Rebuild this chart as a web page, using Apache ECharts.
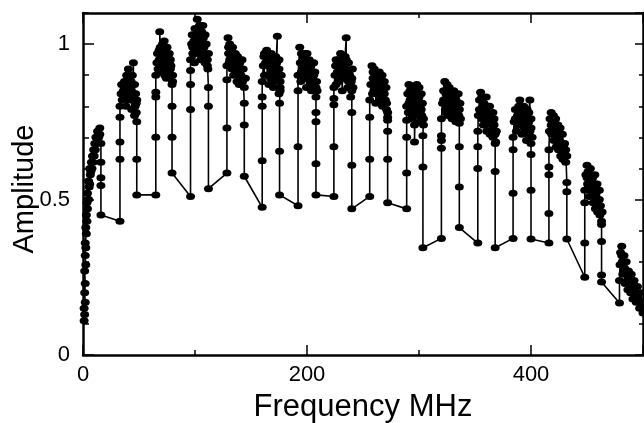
<!DOCTYPE html>
<html>
<head>
<meta charset="utf-8">
<script src="https://cdn.jsdelivr.net/npm/echarts@6/dist/echarts.min.js"></script>
<style>html,body{margin:0;padding:0;background:#fff}#c{width:644px;height:423px}</style>
</head>
<body>
<div id="c"></div>
<script>
// Each sweep: [frequency MHz, amplitude] in acquisition order
var sweep0 = [[1,0.11],[1.5,0.13],[1,0.15],[2,0.17],[1.5,0.2],[2,0.23],[1.5,0.27],[2.5,0.29],[2,0.32],[2.5,0.345],[2,0.36],[3,0.39],[2.5,0.41],[3.5,0.43],[3,0.45],[4,0.47],[3.5,0.49],[4.5,0.5],[4,0.52],[5,0.5],[5.5,0.54],[5,0.56],[6,0.55],[6.5,0.58],[6,0.6],[7,0.59],[7.5,0.62],[8,0.6],[8.5,0.64],[9,0.62],[9.5,0.66],[10,0.64],[10.5,0.68],[11,0.66],[11.5,0.7],[12,0.68],[13,0.72],[14,0.7],[15,0.73],[15,0.71],[16,0.68],[16,0.62],[16,0.57],[16,0.545],[16,0.45]];
var sweep1 = [[33,0.43],[33,0.63],[33,0.685],[33,0.765],[33,0.8],[34,0.84],[35,0.82],[34.5,0.87],[36,0.85],[37,0.88],[36.5,0.83],[38,0.86],[39,0.9],[38.5,0.8],[40,0.84],[41,0.89],[40.5,0.92],[42,0.87],[41.5,0.82],[43,0.85],[44,0.9],[43.5,0.79],[45,0.94],[45,0.83],[46,0.87],[46.5,0.8],[47,0.84],[48,0.82],[47.5,0.78],[46,0.77],[44,0.82],[42,0.84],[39,0.83],[37,0.86],[40,0.88],[43,0.88],[46,0.84],[47.5,0.81],[48,0.75],[48,0.63],[48,0.515]];
var sweep2 = [[65,0.515],[65,0.70],[65,0.83],[65,0.845],[65,0.9],[66,0.94],[67,0.92],[66.5,0.97],[68,0.95],[69,0.99],[68.5,1.04],[69,0.91],[70,0.96],[71,1.0],[70.5,0.93],[72,0.97],[73,0.9],[72.5,1.01],[74,0.95],[75,0.99],[74.5,0.89],[76,0.93],[77,0.97],[76.5,0.91],[78,0.95],[79,0.9],[78.5,0.93],[80,0.88],[77,0.94],[74,0.92],[71,0.95],[68,0.98],[70,0.99],[73,0.96],[76,0.96],[78,0.92],[80,0.9],[79.5,0.87],[79.5,0.80],[79.5,0.70],[79.5,0.585]];
var sweep3 = [[96,0.51],[96,0.79],[96,0.87],[96,0.915],[96,0.95],[97,1.0],[98,0.97],[97.5,1.03],[99,1.01],[100,1.05],[99.5,0.94],[101,0.99],[102,1.08],[102,1.03],[103,0.97],[104,1.06],[103.5,1.01],[105,0.95],[106,1.04],[105.5,0.99],[107,1.06],[108,0.97],[107.5,1.02],[109,0.94],[110,1.0],[109.5,0.96],[111,0.93],[112,0.97],[111.5,0.92],[108,0.99],[105,1.02],[101,1.01],[98,0.99],[100,0.97],[103,1.04],[106,1.0],[109,1.03],[111,0.95],[112,0.86],[112,0.80],[112,0.535]];
var sweep4 = [[128.5,0.585],[128.5,0.73],[128.5,0.885],[128.5,0.93],[129.5,1.02],[130,0.97],[131,1.0],[130.5,0.94],[132,0.98],[133,0.92],[133.5,0.99],[135,0.95],[134.5,0.9],[136,0.97],[137,0.93],[137.5,0.88],[138,0.96],[139,0.91],[140,0.94],[139.5,0.87],[141,0.9],[142,0.95],[142.5,0.88],[143,0.92],[144,0.86],[145,0.89],[141,0.92],[137,0.95],[133,0.96],[130,0.99],[131,0.95],[135,0.92],[138,0.9],[141,0.88],[143,0.89],[144,0.81],[144,0.74],[144,0.575]];
var sweep5 = [[160,0.475],[160,0.625],[160,0.80],[160,0.83],[160,0.88],[161,0.93],[162,0.9],[161.5,0.96],[163,0.94],[164,0.98],[164.5,0.9],[165,0.95],[166,0.87],[167,0.93],[168,0.97],[167.5,0.89],[169,0.94],[170,0.86],[171,0.91],[172,0.96],[171.5,0.88],[173.5,1.025],[173,0.94],[174,0.9],[175,0.95],[176,0.86],[175,0.84],[177,0.9],[176,0.88],[172,0.92],[168,0.91],[164,0.93],[162,0.97],[166,0.96],[170,0.94],[173,0.9],[175,0.92],[176,0.85],[175.5,0.81],[175.5,0.655],[175.5,0.515]];
var sweep6 = [[192,0.48],[192,0.67],[192,0.85],[192,0.9],[193.5,0.99],[194,0.94],[195,0.97],[194.5,0.88],[196,0.92],[197,0.96],[198,0.89],[199,0.94],[200,0.97],[199.5,0.86],[201,0.91],[202,0.95],[203,0.88],[203.5,0.93],[204,0.85],[205,0.9],[206,0.94],[206.5,0.87],[207,0.91],[208.5,0.88],[209,0.85],[205,0.87],[201,0.93],[197,0.94],[195,0.91],[198,0.97],[202,0.92],[206,0.9],[208,0.86],[208,0.83],[208,0.78],[208,0.75],[208,0.615],[208,0.515]];
var sweep7 = [[224,0.51],[224,0.67],[224,0.805],[224,0.825],[224,0.86],[225,0.9],[226,0.87],[225.5,0.93],[227,0.91],[228,0.95],[228.5,0.88],[229,0.93],[230,0.97],[231,0.9],[231.5,0.85],[232,0.94],[233,0.89],[234,0.96],[235,1.02],[235,0.95],[236,0.91],[237,0.94],[236.5,0.86],[238,0.9],[239,0.83],[239.5,0.88],[240.5,0.92],[241,0.86],[237,0.88],[233,0.92],[229,0.9],[226,0.95],[230,0.94],[234,0.9],[238,0.86],[240,0.89],[240,0.85],[240,0.78],[240,0.61],[240,0.47]];
var sweep8 = [[256,0.51],[256,0.63],[256,0.765],[256,0.82],[257,0.87],[258,0.93],[258.5,0.84],[259,0.89],[260,0.92],[261,0.86],[261.5,0.81],[262,0.9],[263,0.84],[264,0.88],[264.5,0.91],[265,0.82],[266,0.87],[267,0.9],[267.5,0.8],[268,0.85],[269,0.88],[270,0.82],[270.5,0.86],[271,0.79],[268,0.82],[265,0.86],[262,0.87],[259,0.91],[260,0.85],[263,0.89],[266,0.84],[269,0.84],[271,0.81],[272,0.78],[272,0.765],[272,0.755],[272,0.72],[272,0.63],[272,0.49]];
var sweep9 = [[289,0.47],[289,0.585],[289,0.70],[289,0.755],[289,0.8],[290,0.84],[291,0.87],[290.5,0.78],[292,0.82],[293,0.86],[293.5,0.76],[294,0.8],[295,0.85],[296,0.74],[296,0.685],[296.5,0.79],[297,0.84],[298,0.87],[298.5,0.77],[299,0.82],[300,0.86],[300.5,0.75],[301,0.8],[302,0.84],[302.5,0.77],[303,0.81],[304,0.74],[301,0.78],[298,0.81],[295,0.82],[292,0.85],[291,0.81],[294,0.77],[297,0.79],[300,0.83],[302,0.79],[304,0.76],[303.5,0.705],[303.5,0.605],[303.5,0.345]];
var sweep10 = [[320,0.375],[320,0.665],[320,0.69],[320,0.705],[320,0.76],[321,0.81],[322,0.85],[323,0.88],[323.5,0.79],[324,0.84],[325,0.87],[326,0.77],[326.5,0.82],[327,0.86],[328,0.8],[329,0.84],[329.5,0.76],[330,0.81],[331,0.85],[332,0.78],[332.5,0.83],[333,0.75],[334,0.8],[335,0.84],[335.5,0.77],[336.5,0.81],[337,0.76],[334,0.78],[331,0.82],[328,0.83],[325,0.85],[322,0.82],[324,0.78],[327,0.79],[330,0.79],[333,0.82],[336,0.79],[336,0.745],[336,0.67],[336,0.54],[336,0.41]];
var sweep11 = [[352.5,0.36],[352.5,0.60],[352.5,0.67],[352.5,0.72],[353,0.77],[354,0.82],[355,0.845],[355.5,0.78],[356,0.83],[357,0.8],[357.5,0.74],[358,0.81],[359,0.77],[360,0.83],[360.5,0.72],[361,0.79],[362,0.75],[363,0.8],[363.5,0.71],[364,0.77],[365,0.74],[366,0.78],[366,0.7],[367,0.74],[368,0.71],[368.5,0.685],[369,0.72],[366,0.75],[363,0.77],[360,0.8],[357,0.83],[354,0.79],[356,0.76],[359,0.74],[362,0.78],[365,0.72],[367,0.76],[368,0.72],[368,0.68],[368,0.59],[368,0.345]];
var sweep12 = [[384,0.375],[384,0.52],[384,0.66],[384,0.7],[385,0.75],[386,0.79],[387,0.72],[388,0.77],[389,0.8],[390,0.82],[390.5,0.74],[391,0.78],[392,0.71],[393,0.76],[393.5,0.8],[394,0.73],[395,0.77],[396,0.69],[396.5,0.79],[397,0.74],[398,0.78],[399,0.82],[399,0.72],[400,0.76],[401,0.7],[400,0.68],[398,0.71],[396,0.75],[394,0.78],[391,0.8],[388,0.74],[386,0.76],[389,0.77],[392,0.75],[395,0.72],[398,0.75],[400,0.73],[400,0.645],[400,0.53],[400,0.373]];
var sweep13 = [[416,0.36],[416,0.455],[416,0.58],[416,0.605],[416,0.66],[416.5,0.72],[417,0.76],[418,0.78],[418.5,0.71],[419,0.75],[420,0.77],[420.5,0.69],[421,0.73],[422,0.76],[422.5,0.67],[423,0.71],[424,0.74],[424.5,0.66],[425,0.7],[426,0.73],[426.5,0.64],[427,0.68],[428,0.71],[428.5,0.63],[429,0.67],[430,0.65],[431,0.62],[432,0.64],[430,0.68],[427,0.71],[424,0.72],[421,0.75],[418,0.74],[420,0.71],[423,0.69],[426,0.67],[429,0.65],[431,0.66],[432,0.555],[432,0.525],[432,0.373]];
var sweep14 = [[448,0.25],[448,0.36],[448,0.49],[448,0.53],[449,0.58],[450,0.61],[450.5,0.55],[451,0.59],[452,0.51],[452.5,0.56],[453,0.6],[454,0.53],[455,0.57],[455.5,0.49],[456,0.54],[457,0.58],[457.5,0.47],[458,0.52],[459,0.55],[459.5,0.46],[460,0.5],[461,0.53],[461.5,0.45],[462,0.48],[463,0.43],[463.5,0.46],[461,0.5],[458,0.55],[455,0.55],[452,0.58],[450,0.57],[453,0.54],[456,0.51],[459,0.49],[462,0.46],[463,0.42],[463,0.365],[463,0.257],[463,0.235]];
var sweep15 = [[479,0.167],[479,0.24],[479.5,0.29],[480,0.33],[481,0.35],[481.5,0.3],[482,0.26],[483,0.32],[483.5,0.28],[484,0.23],[485,0.3],[486,0.26],[486.5,0.21],[487,0.27],[488,0.24],[489,0.2],[489.5,0.26],[490,0.22],[491,0.18],[492,0.24],[493,0.2],[494,0.17],[495,0.22],[496,0.18],[497,0.15],[498,0.2],[499,0.16],[500,0.135],[498,0.17],[495,0.19],[492,0.21],[489,0.23],[486,0.24],[483,0.27],[481,0.32]];

var xLabels = ['0', '200', '400'];
var yLabels = ['0', '0.5', '1'];

var allData = [].concat(sweep0, sweep1, sweep2, sweep3, sweep4, sweep5, sweep6, sweep7,
  sweep8, sweep9, sweep10, sweep11, sweep12, sweep13, sweep14, sweep15);

var FONT = 'Liberation Sans, Arial, sans-serif';
function xAx(pos, interval, len, showLbl, showLine) {
  return {
    type: 'value', position: pos, min: 0, max: 500, interval: interval,
    axisLine: {show: showLine, onZero: false, lineStyle: {color: '#000', width: 2.5}},
    axisTick: {show: true, inside: true, length: len, lineStyle: {color: '#000', width: 1.5}},
    splitLine: {show: false},
    axisLabel: {show: showLbl, margin: 9, color: '#000', fontSize: 22, fontFamily: FONT,
      formatter: function (v) { var s = String(v); return xLabels.indexOf(s) >= 0 ? s : ''; }},
    name: showLbl ? 'Frequency MHz' : '', nameLocation: 'middle', nameGap: 37, nameMoveOverlap: false,
    nameTextStyle: {color: '#000', fontSize: 31, fontFamily: FONT}
  };
}
function yAx(pos, interval, len, showLbl, showLine) {
  return {
    type: 'value', position: pos, min: 0, max: 1.1, interval: interval,
    axisLine: {show: showLine, onZero: false, lineStyle: {color: '#000', width: 2.5}},
    axisTick: {show: true, inside: true, length: len, lineStyle: {color: '#000', width: 1.5}},
    splitLine: {show: false},
    axisLabel: {show: showLbl, margin: 13, color: '#000', fontSize: 22, fontFamily: FONT, showMaxLabel: false,
      formatter: function (v) { var s = String(Math.round(v * 10) / 10); return yLabels.indexOf(s) >= 0 ? s : ''; }},
    name: showLbl ? 'Amplitude' : '', nameLocation: 'middle', nameGap: 44, nameMoveOverlap: false,
    nameTextStyle: {color: '#000', fontSize: 29, fontFamily: FONT, padding: [0, 10, 0, 0]}
  };
}

var chart = echarts.init(document.getElementById('c'), null, {renderer: 'canvas'});
chart.setOption({
  animation: false,
  backgroundColor: '#fff',
  grid: {left: 83, right: 1, top: 13, bottom: 68, containLabel: false, outerBoundsMode: 'none'},
  xAxis: [xAx('bottom', 200, 10, true, true), xAx('bottom', 100, 5, false, false),
          xAx('top', 200, 10, false, true), xAx('top', 100, 5, false, false)],
  yAxis: [yAx('left', 0.5, 11, true, true), yAx('left', 0.1, 6, false, false),
          yAx('right', 0.5, 8, false, true), yAx('right', 0.1, 4, false, false)],
  series: [{
    type: 'line', xAxisIndex: 0, yAxisIndex: 0, data: allData,
    symbol: 'circle', symbolSize: [9, 7], showSymbol: true,
    itemStyle: {color: '#000'},
    lineStyle: {color: '#000', width: 1.6},
    clip: true
  }]
});
</script>
</body>
</html>
